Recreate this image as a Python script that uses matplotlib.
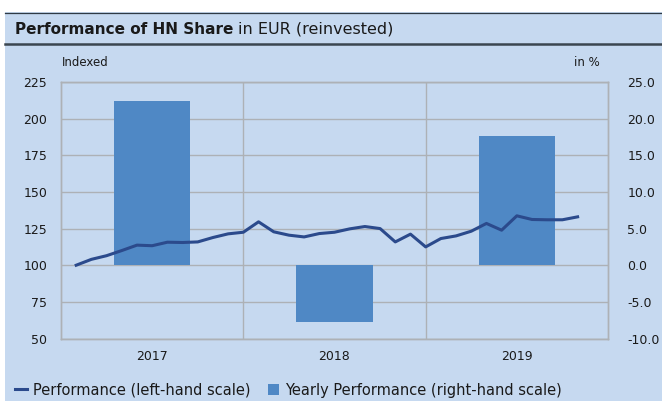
"""Performance of HN Share chart: monthly index line plus yearly bars."""

import matplotlib
matplotlib.use("Agg")
import matplotlib.pyplot as plt
import numpy as np
from matplotlib.lines import Line2D
from matplotlib.patches import Patch, Rectangle

years = ["2017", "2018", "2019"]
yearly_perf = [22.4, -7.8, 17.6]  # in %, right-hand scale

# month index (1 = Jan 2017) and indexed performance, left-hand scale
months = list(range(1, 35))
index_values = [
    100.0, 104.0, 106.5, 110.0, 113.7, 113.3, 115.7, 115.5, 115.9, 118.9,
    121.4, 122.5, 129.6, 122.8, 120.5, 119.3, 121.6, 122.5, 124.8, 126.4,
    125.0, 115.9, 121.2, 112.5, 118.2, 120.0, 123.2, 128.5, 123.9, 133.7,
    131.2, 131.0, 131.0, 133.0,
]

BG = "#c6d9f0"
BAR = "#4f88c5"
LINE = "#2b4a8c"
GRID = "#adb1b6"
TEXT = "#1a1a1a"

plt.rcParams["font.family"] = ["DejaVu Sans"]

W, H = 662, 401
fig = plt.figure(figsize=(W / 100, H / 100), dpi=100)
fig.patch.set_facecolor("white")

# panel background and title band lines
fig.add_artist(Rectangle((5 / W, 0), 1, 1 - 12 / H, transform=fig.transFigure,
                         facecolor=BG, edgecolor="none", zorder=0))
fig.add_artist(Line2D([5 / W, 1], [1 - 12.5 / H] * 2, transform=fig.transFigure,
                      color="#2f3a44", lw=0.9))
fig.add_artist(Line2D([5 / W, 1], [1 - 44 / H] * 2, transform=fig.transFigure,
                      color="#3b4650", lw=1.8))

t1 = fig.text(15 / W, 1 - 29 / H, "Performance of HN Share", fontsize=11,
              fontweight="bold", color=TEXT, va="center", ha="left")
fig.canvas.draw()
bb = t1.get_window_extent()
fig.text((bb.x1 + 5) / W, 1 - 29 / H, "in EUR (reinvested)", fontsize=11.5,
         color=TEXT, va="center", ha="left")

# ax: front, left scale + line; ax2: back, right scale + bars + grid
ax = fig.add_axes([61 / W, 1 - 338.5 / H, (608 - 61) / W, (338.5 - 82) / H])
ax2 = ax.twinx()
ax.set_zorder(ax2.get_zorder() + 1)
ax.patch.set_visible(False)
ax2.patch.set_visible(False)

x = np.arange(len(years))
ax2.bar(x, yearly_perf, width=0.42, color=BAR, zorder=2)
ax2.set_ylim(-10, 25)
ax2.set_yticks(np.arange(-10, 25.1, 5))
ax2.set_yticklabels([f"{v:.1f}" for v in np.arange(-10, 25.1, 5)])
ax2.yaxis.grid(True, color=GRID, lw=1.0, zorder=0)
for b in [0.5, 1.5]:
    ax2.axvline(b, color=GRID, lw=1.0, zorder=0)
ax2.set_axisbelow(True)

xm = -0.5 + np.array(months) / 12
ax.plot(xm, index_values, color=LINE, lw=2.2, zorder=3)
ax.set_ylim(50, 225)
ax.set_yticks(np.arange(50, 226, 25))
ax.set_xlim(-0.5, 2.5)
ax.set_xticks(x)
ax.set_xticklabels(years)

for a in (ax, ax2):
    for s in a.spines.values():
        s.set_color(GRID)
        s.set_linewidth(1.0)
    a.tick_params(length=0, labelsize=9, colors=TEXT)
ax.tick_params(axis="x", pad=8)
ax.tick_params(axis="y", pad=10)
ax2.tick_params(axis="y", pad=14)

fig.text(62 / W, 1 - 62 / H, "Indexed", fontsize=8.5, color=TEXT, va="center")
fig.text(600 / W, 1 - 62 / H, "in %", fontsize=8.5, color=TEXT, va="center",
         ha="right")

handles = [Line2D([], [], color=LINE, lw=2.2),
           Patch(facecolor=BAR, edgecolor="none")]
fig.legend(handles, ["Performance (left-hand scale)",
                     "Yearly Performance (right-hand scale)"],
           loc="center left", bbox_to_anchor=(2 / W, 1 - 390 / H), ncol=2,
           frameon=False, fontsize=10.5, handlelength=0.8, handletextpad=0.4,
           columnspacing=1.2, labelcolor=TEXT)

fig.savefig("out.png", dpi=100)
